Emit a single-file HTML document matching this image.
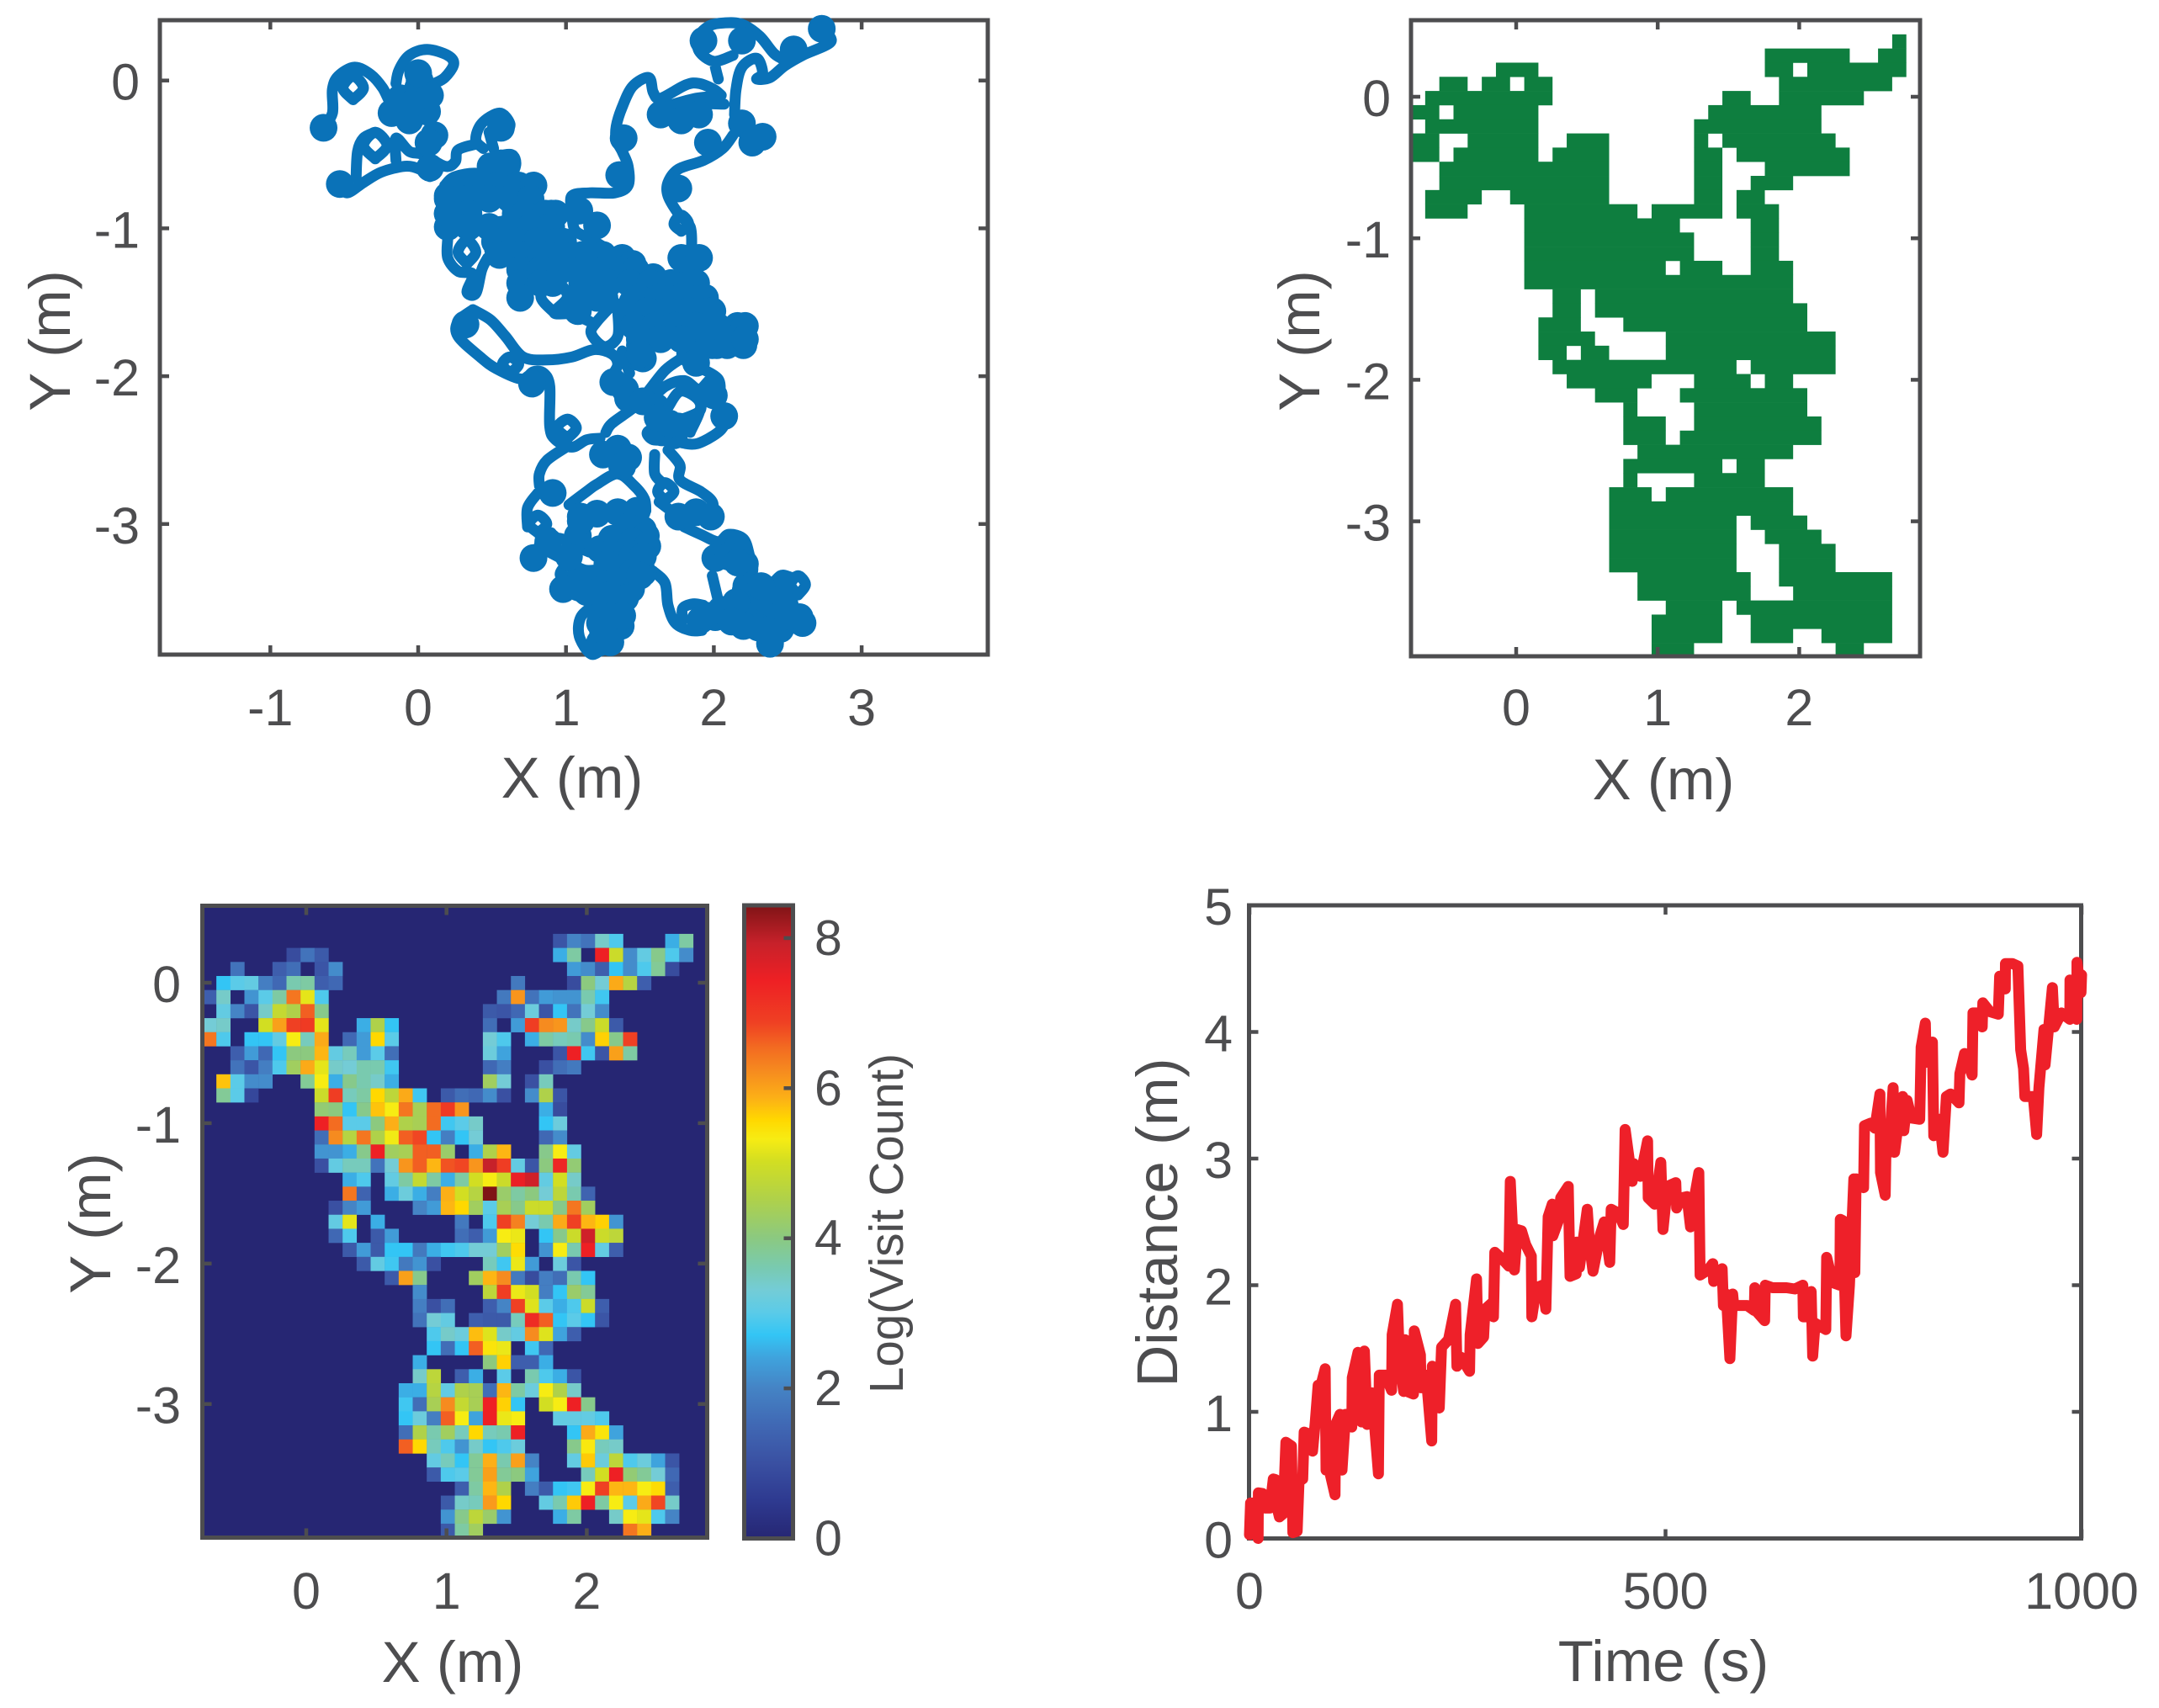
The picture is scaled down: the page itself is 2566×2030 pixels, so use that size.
<!DOCTYPE html>
<html lang="en">
<head>
<meta charset="utf-8">
<title>Trajectory analysis figure</title>
<style>
html,body{margin:0;padding:0;background:#fff;}
svg{display:block;}
text{font-family:"Liberation Sans",Arial,sans-serif;fill:#4d4d4f;}
</style>
</head>
<body>
<svg id="fig" xmlns="http://www.w3.org/2000/svg" width="2566" height="2030" viewBox="0 0 2566 2030">
<rect x="0" y="0" width="2566" height="2030" fill="#fff"/>
<g id="panelA"></g>
<g id="panelB"></g>
<g id="panelC"></g>
<g id="panelD"></g>
<text x="680" y="948" font-size="69" text-anchor="middle">X (m)</text>
<text transform="translate(83,405) rotate(-90)" font-size="69" text-anchor="middle">Y (m)</text>
<text x="1977" y="950" font-size="69" text-anchor="middle">X (m)</text>
<text transform="translate(1568,405) rotate(-90)" font-size="69" text-anchor="middle">Y (m)</text>
<text x="538" y="1999" font-size="69" text-anchor="middle">X (m)</text>
<text transform="translate(131,1454) rotate(-90)" font-size="69" text-anchor="middle">Y (m)</text>
<text transform="translate(1073,1454) rotate(-90)" font-size="56.5" text-anchor="middle">Log(Visit Count)</text>
<text x="1977" y="1998" font-size="69" text-anchor="middle">Time (s)</text>
<text transform="translate(1399,1453) rotate(-90)" font-size="69" text-anchor="middle">Distance (m)</text>
</svg>
<script>
// ---------- Trajectory data (metres); null lifts the pen ----------
const pathX=[-.64,-.58,-.58,-.54,-.43,-.32,-.24,-.18,-.09,null,-.44,-.51,-.44,-.37,-.44,null,-.15,-.13,-.06,.06,.20,.24,.18,.11,null,-.29,-.37,-.29,-.21,-.29,null,-.42,-.41,-.37,-.29,null,-.53,-.48,-.37,-.25,-.09,.01,.08,null,-.15,-.15,-.06,.03,.18,.25,.27,.39,null,.44,.39,.43,.55,.62,.60,null,.51,.48,null,.51,.63,.66,.61,.47,null,.66,.42,.25,.18,null,1.04,1.04,1.16,1.33,1.42,1.42,1.38,1.34,1.34,1.38,1.45,1.56,1.59,1.64,1.81,1.90,2.0,2.05,null,1.66,1.88,2.03,null,1.76,1.90,2.07,null,1.04,1.06,1.16,1.26,1.33,null,2.14,2.15,2.19,2.29,2.33,2.29,2.38,2.48,2.60,2.79,2.74,null,2.13,2.0,1.90,1.90,1.97,2.07,2.19,2.31,2.41,2.50,null,2.03,2.01,null,1.85,1.84,1.76,1.69,1.69,1.76,1.93,2.06,2.13,null,1.78,1.73,1.78,1.83,1.78,null,.20,.20,.27,.37,.33,.39,.43,.47,null,.33,.27,.33,.39,.33,null,.92,.83,.92,1.01,.92,1.04,1.16,null,1.33,1.21,1.17,1.26,1.35,1.35,null,.37,.27,.27,.42,.53,.70,.78,.85,.89,.89,.93,1.04,1.14,1.23,null,.37,.49,.59,.71,.87,1.04,1.19,1.31,1.35,1.31,1.29,null,.62,.57,.62,.68,.62,null,1.01,.94,1.01,1.07,1.01,null,1.0,.87,.82,.82,null,1.27,1.31,1.46,1.55,1.67,1.78,null,1.38,1.43,null,1.55,1.67,1.80,1.90,1.99,2.03,2.08,2.05,1.93,1.84,1.69,1.59,1.55,1.63,1.76,1.90,1.91,null,1.69,1.78,1.91,1.84,null,1.90,2.03,2.04,null,1.69,1.77,1.77,1.91,1.99,1.99,null,1.60,1.60,1.65,null,1.67,1.62,1.67,1.73,1.67,null,1.63,1.71,null,1.80,1.91,2.03,2.10,2.20,2.24,2.26,2.16,null,1.99,2.03,null,1.59,1.67,1.69,1.74,1.84,1.92,null,1.79,1.79,1.86,1.93,null,2.57,2.52,2.57,2.62,2.57,null,2.37,2.45,2.52,null,.81,.75,.81,.87,.81,null,.74,.74,.81,null,1.02,1.14,1.21,1.35,1.46,1.53,1.54,null,.83,.97,1.16,1.31,null,.85,1.0,1.12,1.21,null,.90,.82,null,1.08,1.08,null,1.01,.96,1.01,1.07,1.01,null,.97,1.06,1.16,1.19,1.14,1.09,null,1.19,1.10,1.09,1.17,1.25];
const pathY=[-.32,-.22,-.06,.03,.09,.04,-.05,-.16,-.20,null,-.13,-.05,.03,-.05,-.13,null,-.02,.07,.17,.21,.17,.11,.02,-.02,null,-.53,-.44,-.35,-.44,-.53,null,-.66,-.48,-.39,-.35,null,-.70,-.76,-.69,-.62,-.58,-.60,-.65,null,-.54,-.39,-.48,-.50,-.58,-.55,-.47,-.43,null,-.46,-.40,-.29,-.22,-.29,-.35,null,-.46,-.35,null,-.52,-.50,-.57,-.65,-.65,null,-.71,-.63,-.65,-.71,null,-.88,-.78,-.76,-.76,-.71,-.58,-.48,-.40,-.31,-.18,-.04,.02,-.08,-.12,-.03,-.02,-.06,-.10,null,-.18,-.12,-.11,null,-.20,-.16,-.16,null,-.88,-1.01,-1.07,-1.13,-1.18,null,-.23,-.06,.09,.15,.05,.01,.02,.10,.17,.26,.34,null,.17,.13,.20,.30,.37,.39,.38,.30,.18,.13,null,.01,.09,null,-1.13,-.99,-.90,-.78,-.69,-.60,-.54,-.46,-.37,null,-1.02,-.97,-.91,-.97,-1.02,null,-1.07,-1.20,-1.29,-1.31,-1.43,-1.44,-1.28,-1.20,null,-1.24,-1.16,-1.08,-1.16,-1.24,null,-1.57,-1.46,-1.35,-1.46,-1.57,-1.58,-1.63,null,-1.50,-1.63,-1.71,-1.80,-1.73,-1.56,null,-1.55,-1.63,-1.73,-1.87,-1.95,-2.02,-1.97,-1.98,-2.07,-2.34,-2.43,-2.48,-2.43,-2.42,null,-1.55,-1.62,-1.73,-1.87,-1.89,-1.87,-1.82,-1.85,-1.92,-2.0,-2.05,null,-1.98,-1.92,-1.87,-1.92,-1.98,null,-2.42,-2.35,-2.29,-2.35,-2.42,null,-2.48,-2.57,-2.66,-2.74,null,-2.38,-2.32,-2.21,-2.11,-1.96,-1.88,null,-1.83,-1.98,null,-2.19,-2.07,-2.03,-2.09,-2.02,-2.17,-2.27,-2.36,-2.44,-2.46,-2.43,-2.43,-2.38,-2.34,-2.30,-2.24,-2.17,null,-2.21,-2.10,-2.19,-2.38,null,-1.94,-2.02,-2.14,null,-2.50,-2.60,-2.70,-2.78,-2.85,-2.93,null,-2.53,-2.66,-2.72,null,-2.84,-2.78,-2.72,-2.78,-2.84,null,-2.85,-2.91,null,-3.02,-3.07,-3.12,-3.07,-3.10,-3.21,-3.33,-3.44,null,-3.35,-3.52,null,-3.32,-3.40,-3.55,-3.67,-3.72,-3.72,null,-3.65,-3.57,-3.54,-3.55,null,-3.48,-3.41,-3.35,-3.41,-3.48,null,-3.44,-3.35,-3.36,null,-3.06,-3.0,-2.94,-3.0,-3.06,null,-3.02,-2.89,-2.79,null,-2.87,-2.78,-2.73,-2.66,-2.74,-2.83,-2.91,null,-3.10,-3.10,-3.19,-3.19,null,-3.17,-3.25,-3.31,-3.31,null,-3.06,-3.14,null,-2.98,-3.08,null,-3.40,-3.34,-3.28,-3.34,-3.40,null,-3.40,-3.48,-3.48,-3.38,-3.34,-3.38,null,-3.55,-3.63,-3.76,-3.88,-3.84];
// Places where the robot dwelt and the trace piles up into blobs
const dwellX=[-.64,.01,-.01,.05,-.18,-.09,.06,-.06,.11,.07,.08,-.53,.56,.49,.56,1.39,1.36,1.09,1.21,1.64,1.78,1.90,1.96,2.19,2.26,2.33,2.19,1.93,2.54,2.73,1.76,1.78,1.90,1.83,.20,.20,.20,.37,.56,.75,.66,.82,.90,.56,.70,.85,.54,.70,.85,.99,.75,.90,1.04,.70,1.21,1.38,1.45,1.11,1.28,1.45,1.59,1.61,1.09,1.26,1.45,1.61,1.78,1.88,1.76,1.90,1.97,1.45,1.61,1.78,1.93,2.07,2.17,2.19,2.02,1.82,1.50,1.49,.32,.77,1.32,1.40,1.52,1.50,1.86,1.84,1.99,2.09,2.20,1.88,1.42,1.52,1.61,1.65,1.73,1.76,2.07,2.0,1.25,1.35,1.42,1.38,.91,1.76,1.88,1.98,2.01,2.09,2.16,2.21,.78,1.10,1.21,1.35,1.48,1.52,1.42,1.54,1.23,1.31,1.52,1.27,1.38,1.25,1.35,1.44,1.36,1.27,1.37,1.23,1.23,1.33,1.91,2.01,2.12,2.24,2.24,2.22,2.31,2.27,2.43,2.34,2.48,2.58,2.60,2.45,2.38,2.45,
.26,.4,.54,.68,.78,.2,.34,.48,.62,.76,.2,.34,.72,.86,.93,.34,.48,.62,.76,.9,.52,.66,.8,.94,.98,.55,.69,.83,.97,1.11,1.25,.69,.83,.97,1.11,1.25,1.39,1.47,.69,.83,.91,1.15,1.29,1.43,1.57,1.71,1.85,.69,1.07,1.21,1.49,1.63,1.77,1.91,1.94,1.08,1.41,1.55,1.69,1.83,1.97,1.99,1.46,1.6,1.74,1.88,2.02,2.16,2.21,1.5,1.64,1.78,2.1,2.21,
-.12,0,.08,-.05,0,
1.45,1.55,1.3,1.45,1.52,1.28,1.45,1.3,1.5,1.4,1.3,1.32,1.25,1.3,1.38,1.5,1.62,1.7,
1.95,2.15,2.05,2.32,2.4,2.38,2.5,2.3,2.2,2.12,2.36,2.1,2.16,
.88,1.06,1.14,.98,1.08,1.1,1.02];
const dwellY=[-.32,0,-.10,-.16,-.22,-.21,-.21,-.27,-.37,-.42,-.59,-.70,-.32,-.58,-.56,-.39,-.64,-.88,-.98,-.23,-.27,-.23,-.42,-.29,-.42,-.38,.27,.27,.21,.35,-.73,-1.20,-1.20,-1.28,-.78,-.90,-.99,-.78,-.75,-.76,-.90,-.90,-.90,-1.01,-1.01,-1.01,-1.14,-1.14,-1.14,-1.14,-1.28,-1.28,-1.24,-1.39,-1.24,-1.20,-1.24,-1.37,-1.37,-1.37,-1.33,-1.43,-1.50,-1.47,-1.50,-1.52,-1.39,-1.37,-1.50,-1.50,-1.60,-1.62,-1.66,-1.64,-1.64,-1.71,-1.69,-1.77,-1.79,-1.78,-1.75,-1.87,-1.65,-2.05,-2.04,-2.09,-1.88,-1.79,-1.79,-1.85,-1.79,-1.79,-1.79,-1.91,-2.15,-2.17,-2.21,-2.38,-2.40,-2.34,-2.27,-2.13,-2.53,-2.49,-2.55,-2.61,-2.79,-2.95,-2.92,-2.95,-3.23,-3.17,-3.16,-3.27,-3.23,-2.95,-2.93,-2.92,-2.91,-3.04,-3.02,-3.08,-3.17,-3.10,-3.33,-3.33,-3.36,-3.44,-3.44,-3.44,-3.55,-3.55,-3.69,-3.67,-3.80,-3.71,-3.65,-3.63,-3.61,-3.63,-3.52,-3.42,-3.60,-3.66,-3.44,-3.50,-3.55,-3.63,-3.67,-3.71,-3.81,-3.63,
-.71,-.71,-.71,-.71,-.71,-.80,-.80,-.80,-.80,-.80,-.90,-.90,-.90,-.90,-.90,-.99,-.99,-.99,-.99,-.99,-1.09,-1.09,-1.09,-1.09,-1.09,-1.18,-1.18,-1.18,-1.18,-1.18,-1.18,-1.28,-1.28,-1.28,-1.28,-1.28,-1.28,-1.28,-1.37,-1.37,-1.37,-1.37,-1.37,-1.37,-1.37,-1.37,-1.37,-1.47,-1.47,-1.47,-1.47,-1.47,-1.47,-1.47,-1.47,-1.56,-1.56,-1.56,-1.56,-1.56,-1.56,-1.56,-1.66,-1.66,-1.66,-1.66,-1.66,-1.66,-1.66,-1.75,-1.75,-1.75,-1.75,-1.75,
-.12,-.05,-.10,-.16,.05,
-3.12,-3.15,-3.2,-3.22,-3.22,-3.27,-3.33,-3.4,-3.35,-3.5,-3.48,-3.62,-3.72,-3.8,-3.62,-1.85,-2.28,-2.32,
-3.62,-3.53,-3.58,-3.42,-3.52,-3.63,-3.62,-3.7,-3.69,-3.66,-3.72,-3.22,-3.26,
-3.12,-3.4,-3.46,-3.44,-3.08,-2.98,-3.22];
const xTicksA=[-1,0,1,2,3];
const yTicksA=[0,-1,-2,-3];

// ---------- Occupancy grid: filled column runs [start,end) for each row ----------
const occupancyRuns=[[],[[34,35]],[[25,31],[33,35]],[[6,9],[25,27],[28,35]],[[2,4],[5,7],[8,10],[26,34]],[[1,10],[22,24],[26,32]],[[0,2],[3,9],[21,29]],[[1,9],[20,29]],[[0,2],[4,9],[11,14],[20,21],[22,30]],[[0,2],[3,9],[10,14],[20,22],[23,31]],[[2,14],[20,22],[25,31]],[[2,14],[20,22],[24,27]],[[1,5],[7,14],[20,22],[23,25]],[[1,4],[8,16],[17,22],[23,26]],[[8,19],[24,26]],[[8,20],[24,26]],[[8,20],[24,26]],[[8,18],[19,22],[24,27]],[[8,27]],[[10,12],[13,27]],[[10,12],[13,28]],[[9,12],[15,28]],[[9,13],[18,30]],[[9,11],[12,14],[18,30]],[[10,23],[24,30]],[[11,17],[20,24],[25,27]],[[13,16],[19,28]],[[15,16],[20,28]],[[15,18],[20,29]],[[15,18],[19,29]],[[16,27]],[[15,22],[23,25]],[[15,16],[20,25]],[[14,17],[18,27]],[[14,27]],[[14,23],[24,28]],[[14,23],[25,29]],[[14,23],[26,30]],[[14,23],[26,30]],[[16,24],[26,34]],[[16,24],[27,34]],[[18,22],[23,34]],[[17,22],[24,34]],[[17,22],[24,27],[29,34]],[[17,20],[30,32]]];
const xTicksB=[0,1,2];
const yTicksB=[0,-1,-2,-3];

// ---------- Heatmap: log visit count by row, then column ----------
const z=[0,0,0,0,0,0,0,0,0,0];
const visitCounts=[[],[],
[...z,...z,0,0,0,0,0,1.1,2,1.7,3.4,2.9,0,0,0,2.5,3.7],
[0,0,0,0,0,0,.9,1.7,1.2,0,...z,0,0,0,0,0,2.5,3.7,0,7.4,4.9,2.1,3.1,3.9,2.9,2.1],
[0,0,1.7,0,0,1.3,1.6,0,1.1,2.1,...z,0,0,0,0,0,0,2.3,2.1,1.3,2.7,2.1,2.9,3.8,.9],
[0,2.7,3,3.1,1.9,1.5,3.6,3.7,1.3,1.5,...z,0,0,1.8,0,0,0,.9,4,3.3,5.9,4.6,1.3],
[1.3,3.4,0,2.2,3,3.7,6.4,5.15,2.9,0,...z,0,1.8,6.1,1.7,2.3,2.2,2.2,3.6,2.8,0],
[0,3.1,2,1.1,3.4,4.8,4.5,6.6,3.9,0,...z,1.2,1.1,1.5,3.2,1.1,2.7,1.7,3.3,2.1,0],
[3.3,3.4,0,0,5,6,6.85,6.95,5.15,0,0,2.5,4.5,2.7,0,0,0,0,0,0,1.6,0,2.3,6.9,6.2,6.1,3.4,3.9,4.9,1.2],
[6.4,2.9,0,2.7,2.7,3.1,5.3,3.5,5.9,0,1.5,2.3,5.55,3,0,0,0,0,0,0,3.3,2.9,0,2.5,3.7,3.5,3.6,2.1,5.6,3.9,6.85],
[0,0,1.3,2.3,1.5,2.7,4,4,5.8,3.1,3.5,2.3,3,1.6,0,0,0,0,0,0,3.2,2.4,0,0,0,1.1,7.4,2.8,1.1,6,3.7],
[0,0,1.7,1.1,1.9,2.9,4.3,5.9,5.15,3.4,3.3,3.6,3.6,2.8,0,0,0,0,0,0,1.5,1.9,0,0,1,1.6,1.8],
[0,5.7,3,2.1,2.1,0,0,3.8,5.3,2.5,3.9,3.6,3.4,2.5,0,0,0,0,0,0,4.3,3.3,0,1,3.5],
[0,3.8,3,.8,0,0,0,0,4.9,6.9,3.5,3.7,5.55,4.7,5.9,2.8,0,1.2,1.6,1.5,2.1,1,0,2.1,4.5,1.1],
[0,0,0,0,0,0,0,0,4.1,4,2.7,3.9,5.7,5.3,6.4,4.4,6.5,6.95,6.1,0,0,0,0,0,2.5,.9],
[0,0,0,0,0,0,0,0,7.4,6.5,3,3,4,5.85,4.5,4.4,6.5,2.8,3,3.4,0,0,0,0,2.7,3.2],
[0,0,0,0,0,0,0,0,1.6,6.2,4.6,6.4,4.5,5.25,6.6,6.8,2.7,1.9,2.7,3.3,0,0,0,0,1.5,2.1],
[0,0,0,0,0,0,0,0,2.2,2.2,2.5,3.9,7.4,4.3,4.4,6.6,6.6,4.2,0,2.5,4.5,5.8,0,0,3.9,5.3,3.1],
[0,0,0,0,0,0,0,0,1,3.1,3.5,3.5,1.7,3.3,6.1,6.6,5.8,6.7,6.8,6.1,7.9,6.9,3.1,1.1,4,7.3,4.1],
[...z,2.5,2.9,0,3.1,3.7,4.8,3.7,2.5,3.7,5,5.3,4.9,7.45,7.8,3.1,5,3.4],
[...z,6.4,1.4,0,2.5,3.2,2.5,1.9,5.85,5,4.6,8.4,4.2,3.7,4,3.3,4.7,3.6,1.4],
[0,0,0,0,0,0,0,0,0,1,2,2.3,0,0,0,2,2.3,5.8,5.55,4.3,3,4.4,3.9,4.9,4.9,3.9,6.4,4.3],
[0,0,0,0,0,0,0,0,0,3.1,5.15,0,2.5,0,0,0,0,0,1.8,0,2.9,6.85,6.3,3.3,3.6,5.9,6.85,5.8,5.6,2.2],
[0,0,0,0,0,0,0,0,0,1.5,2.9,0,1.2,2.3,0,0,0,0,1.6,1.3,2.3,5.3,5.2,0,2.7,3.9,4.9,7.8,4.9,4.7],
[...z,1.2,2.3,1.2,2.7,2.7,1.8,2.5,2.8,2.9,3.3,3.3,4.3,5.5,0,2.2,5.3,3.6,7.4,3.1,1.3],
[...z,0,1.2,3.1,2.8,1.8,2.2,1,0,0,0,3.5,2.8,5.2,2.3,0,3.2,1.1],
[...z,0,0,0,1.2,6,3.9,0,0,0,4.3,5.8,6.2,1.8,.9,1.9,1.6,3.6,2.7],
[...z,0,0,0,0,0,2.1,0,0,0,0,4.7,6.9,5.2,5,1.9,2.7,4.2,3.8],
[...z,0,0,0,0,0,1.9,1,1.6,0,0,1.3,2,6.85,5.1,3,2.5,2.9,4.9,1.3],
[...z,0,0,0,0,0,1.7,3.3,3.1,0,1.3,1.2,1.2,3.5,7.2,6.6,2.7,3,2.7,1.1],
[...z,0,0,0,0,0,0,2.9,3.4,3.2,5.75,5.1,3.4,3.1,6.2,5.1,2.4,1.3],
[...z,0,0,0,0,0,0,2.7,1.6,2.7,6.6,5.4,5.2,0,2.8,1.5],
[...z,0,0,0,0,0,2.5,0,0,0,0,4,5.6,1.3,1.3,2.5],
[...z,0,0,0,0,0,3.4,4.7,0,1.3,2.5,0,3,0,3.6,2.9,2.5,1.1],
[...z,0,0,0,0,2.5,2.5,4.6,3.1,4.5,4.4,1.6,5.8,3.7,3.2,5.3,4.5,3.4],
[...z,0,0,0,0,2.8,1.6,4.4,6.2,4.8,4.4,7.4,5.6,2.7,0,5,5.3,7.4,3.9],
[...z,0,0,0,0,2.7,3.2,1.9,6.6,5.3,2.4,7.4,5.2,5.3,0,0,3.1,3.1,3.1,2.9],
[...z,0,0,0,0,1.6,4.5,3.6,4.3,3.5,5.55,3.5,3.6,7.4,0,0,0,2.7,5.9,5.4,2.4],
[...z,0,0,0,0,6.6,5.55,3.5,2.9,2.2,3.4,2.7,2.9,3.2,0,0,0,3.9,5.35,3.5,3.4],
[...z,0,0,0,0,0,0,3.1,3.5,2.7,3.8,5.85,3.6,6,2,0,0,3.1,5.65,3.2,4.7,2.9,3.2,2.4,1.1],
[...z,0,0,0,0,0,0,1.2,2.9,3,3.8,6,3.8,4,2.4,0,0,0,3.5,5,7.4,4.1,3.8,3.3,1.5],
[...z,0,0,0,0,0,0,0,0,1.3,3.7,5.8,4.5,0,1.9,1.2,2.7,2.8,5.3,6.85,5.8,5.8,5.3,5.5,1.3],
[...z,0,0,0,0,0,0,0,1.2,3.4,3.5,6.05,5.55,0,0,3.1,3.6,5.65,7.4,3.7,5.3,3,5.9,6.8,3.4],
[...z,0,0,0,0,0,0,0,2.2,3.9,4.7,4.2,2.2,0,0,0,2.5,3.7,0,0,3.4,5.3,5.15,2.9,2],
[...z,0,0,0,0,0,0,0,1.2,3.7,4.3,...z,6.4,5.85]];
const colorValues=[0,.5,1,1.5,2,2.4,2.7,3,3.3,3.6,4,4.5,5,5.3,5.55,5.85,6.2,6.5,6.85,7.4,7.9,8.4];
const colorHexes=['#262673','#2e3a90','#3a50a2','#4068b4','#4584c5','#3fa3dd','#33c5f5','#5bcbe8','#74ccd6','#79caaf','#8cc97f','#afd14a','#d2de22','#f7ec13','#ffd800','#fcaf17','#f68b1f','#f36c21','#ef4023','#ee2024','#c7212a','#7f1416'];
const xTicksC=[0,1,2];
const yTicksC=[0,-1,-2,-3];
const colorbarTicks=[0,2,4,6,8];

// ---------- Distance over time ----------
const timeSeconds=[0,1.3,5,10.4,10.7,15.8,18.5,24.6,28.6,31.3,32.7,36,40.4,43.8,50.5,52.2,57.3,59.6,64,65.7,69.7,75.8,79.2,82.5,85.9,91,92,96,102.8,103.4,108.8,111.2,115.6,123,123.6,130.4,134.8,138.1,141.5,147.2,155,156,163.4,170.8,171.5,177.9,180.3,185.3,187,189.7,197.1,198.1,205.5,206.2,212.3,219,219.7,228.1,230.8,239.2,247.7,249.3,254.4,264.5,265.2,272.9,274.6,281.4,283,291.5,293.2,294.8,303.3,311.7,313.4,318.4,321.8,326.9,332,338.7,339.3,344.7,352.1,356.2,358.9,363.9,364.6,372.4,374,383.1,385.2,392.6,393.2,396.6,406,408.7,412.8,421.2,426.3,433,434.7,443.1,449.2,451.5,460,461.7,470,478.5,479.2,487,490.3,494.3,497,502.2,512.3,513.3,519,525.8,530,534.2,540,541.6,551,556.8,557.8,568,569.6,573,577.4,580.7,582,598.2,606.7,607.3,611,619.1,619.8,628.6,638.7,645.4,655.5,665,665.6,671,675,676.8,679.8,692.6,693.6,701,709.5,710,713,716.9,721,726.3,727.5,729,738,739.1,746.5,751.6,757.6,758.3,764,765.1,768.4,773.5,775.2,783.6,785,786.3,790.3,795.4,805.5,807.2,812.2,813.2,820.7,822.3,829.1,833.5,837.5,842.6,852.7,853.7,859.4,868.5,869.5,874,880.6,881.3,889.7,899.9,901.5,908.3,908.5,916.7,923.5,926.8,930.2,931.9,942,946,948.7,954.8,956.1,964.9,967.2,975.7,985.8,986,994.2,994.4,999.3,1000];
const distanceMeters=[.03,.28,.28,0,.36,.355,.24,.24,.47,.465,.26,.17,.195,.76,.73,.046,.057,.45,.47,.84,.83,.69,.927,1.21,1.21,1.34,.54,.54,.345,.9,.98,.54,.98,.88,1.27,1.47,.92,1.48,.9,1.15,.51,1.29,1.29,1.17,1.61,1.85,1.41,1.16,1.57,1.16,1.14,1.64,1.45,1.19,1.29,.77,1.36,1.03,1.51,1.57,1.85,1.36,1.43,1.32,1.61,2.05,1.54,1.59,1.81,1.86,1.75,2.26,2.21,2.15,2.82,2.12,2.44,2.43,2.32,2.23,1.75,1.98,2,1.81,2.54,2.64,2.39,2.53,2.69,2.78,2.07,2.09,2.34,2.14,2.6,2.32,2.11,2.39,2.5,2.18,2.6,2.57,2.48,3.23,2.82,2.96,2.86,3.14,2.69,2.64,2.78,2.97,2.44,2.78,2.81,2.61,2.69,2.7,2.46,2.67,2.89,2.08,2.12,2.17,2.03,2.13,1.84,1.93,1.42,1.93,1.84,1.84,1.8,1.98,1.78,1.72,2,1.98,1.98,1.98,1.97,2,1.75,1.75,1.95,1.44,1.7,1.65,2.22,2.02,2,2.52,2.51,1.6,2,2.84,2.1,2.84,2.77,3.26,3.28,3.24,3.51,2.89,2.71,3.17,3.05,3.56,3.05,3.48,3.49,3.22,3.46,3.32,3.31,3.88,4.07,3.76,3.92,3.18,3.31,3.05,3.49,3.51,3.44,3.67,3.83,3.66,4.15,4.15,4.04,4.23,4.16,4.14,4.44,4.34,4.54,4.54,4.52,3.86,3.71,3.49,3.49,3.19,3.56,4.02,3.74,4.35,4.04,4.15,4.1,4.41,4.1,4.55,4.31,4.45];
const xTicksD=[0,500,1000];
const yTicksD=[0,1,2,3,4,5];

// ---------- Drawing ----------
const NS='http://www.w3.org/2000/svg';
const AXIS='#4d4d4f';
function mk(tag,attrs,parent){
  const e=document.createElementNS(NS,tag);
  for(const k in attrs)e.setAttribute(k,attrs[k]);
  parent.appendChild(e);
  return e;
}
function drawAxes(parent,prefix,box,sx,sy,xTicks,yTicks,labelRight,xLabelBase){
  const g=mk('g',{},parent);
  
  
  const frame=mk('rect',{x:box.l,y:box.t,width:box.r-box.l,height:box.b-box.t,fill:'none',stroke:AXIS,'stroke-width':5},g);
  
  
  xTicks.forEach(v=>{
    const x=sx(v);
    [[box.b,box.b-11],[box.t,box.t+11]].forEach(p=>{
      const t=mk('line',{x1:x,x2:x,y1:p[0],y2:p[1],stroke:AXIS,'stroke-width':4.5},g);
      
      
    });
    const l=mk('text',{x:x,y:xLabelBase,'font-size':61,'text-anchor':'middle'},g);
    l.textContent=String(v);
    
    
  });
  yTicks.forEach(v=>{
    const y=sy(v);
    [[box.l,box.l+11],[box.r,box.r-11]].forEach(p=>{
      const t=mk('line',{x1:p[0],x2:p[1],y1:y,y2:y,stroke:AXIS,'stroke-width':4.5},g);
      
      
    });
    const l=mk('text',{x:labelRight,y:y+23,'font-size':61,'text-anchor':'end'},g);
    l.textContent=String(v);
    
    
  });
}
function hexRgb(h){return [1,3,5].map(i=>parseInt(h.substr(i,2),16));}
function colorFor(v){
  if(v<=colorValues[0])return colorHexes[0];
  for(let i=1;i<colorValues.length;i++){
    if(v<=colorValues[i]){
      const f=(v-colorValues[i-1])/(colorValues[i]-colorValues[i-1]);
      const a=hexRgb(colorHexes[i-1]),b=hexRgb(colorHexes[i]);
      return 'rgb('+a.map((c,k)=>Math.round(c+(b[k]-c)*f)).join(',')+')';
    }
  }
  return colorHexes[colorHexes.length-1];
}

// Panel A: trajectory
(function(){
  const p=document.getElementById('panelA');
  const box={l:190,r:1174,t:24,b:778};
  const sx=v=>497+175.7*v, sy=v=>95.7-175.7*v;
  drawAxes(p,'trajectory',box,sx,sy,xTicksA,yTicksA,166,862);
  const sub=[];let cur=[];
  pathX.forEach((x,i)=>{
    if(x===null){sub.push(cur);cur=[];}
    else cur.push([sx(x),sy(pathY[i])]);
  });
  sub.push(cur);
  let d='';
  sub.forEach(pts=>{
    d+='M'+pts[0][0].toFixed(1)+' '+pts[0][1].toFixed(1);
    for(let i=0;i<pts.length-1;i++){
      const a=pts[Math.max(i-1,0)],b=pts[i],c=pts[i+1],e=pts[Math.min(i+2,pts.length-1)];
      d+='C'+(b[0]+(c[0]-a[0])/6).toFixed(1)+' '+(b[1]+(c[1]-a[1])/6).toFixed(1)+' '+(c[0]-(e[0]-b[0])/6).toFixed(1)+' '+(c[1]-(e[1]-b[1])/6).toFixed(1)+' '+c[0].toFixed(1)+' '+c[1].toFixed(1);
    }
  });
  const line=mk('path',{d:d,fill:'none',stroke:'#0a72b8','stroke-width':13,'stroke-linecap':'round','stroke-linejoin':'round'},p);
  
  
  dwellX.forEach((x,i)=>{
    const c=mk('circle',{cx:sx(x),cy:sy(dwellY[i]),r:16.5,fill:'#0a72b8'},p);
    
    
  });
})();

// Panel B: occupancy grid
(function(){
  const p=document.getElementById('panelB');
  const box={l:1677,r:2282,t:24,b:780};
  const sx=v=>1802+168.2*v, sy=v=>115-168.2*v;
  const xMin=-.743,yMax=.541,cell=.1;
  occupancyRuns.forEach((runs,r)=>{
    runs.forEach(run=>{
      const x0=sx(xMin+run[0]*cell),x1=sx(xMin+run[1]*cell),y0=sy(yMax-r*cell),y1=sy(yMax-(r+1)*cell);
      const c=mk('rect',{x:x0,y:y0,width:x1-x0,height:y1-y0+.3,fill:'#0e7e3f'},p);
      
      
    });
  });
  drawAxes(p,'occupancy',box,sx,sy,xTicksB,yTicksB,1653,862);
})();

// Panel C: heatmap and colorbar
(function(){
  const p=document.getElementById('panelC');
  const box={l:240.5,r:840.5,t:1076.5,b:1827.5};
  const sx=v=>364+166.7*v, sy=v=>1168-166.9*v;
  const xMin=-.741,yMax=.548,cell=.1;
  const bg=mk('rect',{x:box.l,y:box.t,width:box.r-box.l,height:box.b-box.t,fill:colorFor(0)},p);
  
  
  visitCounts.forEach((row,r)=>{
    row.forEach((v,c)=>{
      if(!v)return;
      const x0=sx(xMin+c*cell),x1=sx(xMin+(c+1)*cell),y0=sy(yMax-r*cell),y1=sy(yMax-(r+1)*cell);
      const cellEl=mk('rect',{x:x0,y:y0,width:x1-x0+.2,height:y1-y0+.2,fill:colorFor(v)},p);
      
      
    });
  });
  drawAxes(p,'heatmap',box,sx,sy,xTicksC,yTicksC,215,1912);

  // colorbar
  const cb={l:884.5,r:942.5,t:1076,b:1828.5};
  const cy=v=>1828.5-89.2*v;
  const defs=mk('defs',{},p);
  const grad=mk('linearGradient',{id:'cbGrad',x1:0,y1:1,x2:0,y2:0},defs);
  const top=colorValues[colorValues.length-1];
  colorValues.forEach((v,i)=>{
    mk('stop',{offset:(v/top),'stop-color':colorHexes[i]},grad);
  });
  const bar=mk('rect',{x:cb.l,y:cb.t,width:cb.r-cb.l,height:cb.b-cb.t,fill:'url(#cbGrad)',stroke:AXIS,'stroke-width':5},p);
  
  
  colorbarTicks.forEach(v=>{
    const y=cy(v);
    if(v>0){
      const t=mk('line',{x1:cb.r,x2:cb.r-11,y1:y,y2:y,stroke:AXIS,'stroke-width':4.5},p);
      
      
    }
    const l=mk('text',{x:968,y:y+20,'font-size':59},p);
    l.textContent=String(v);
    
    
  });
})();

// Panel D: distance over time
(function(){
  const p=document.getElementById('panelD');
  const box={l:1484.5,r:2473.5,t:1076,b:1828.5};
  const sx=v=>1485+.989*v, sy=v=>1828.5-150.5*v;
  drawAxes(p,'distance',box,sx,sy,xTicksD,yTicksD,1465,1912);
  const pts=timeSeconds.map((t,i)=>sx(t).toFixed(1)+','+sy(distanceMeters[i]).toFixed(1)).join(' ');
  const line=mk('polyline',{points:pts,fill:'none',stroke:'#ee2029','stroke-width':13,'stroke-linecap':'round','stroke-linejoin':'round'},p);
  
  
})();
</script>
</body>
</html>
